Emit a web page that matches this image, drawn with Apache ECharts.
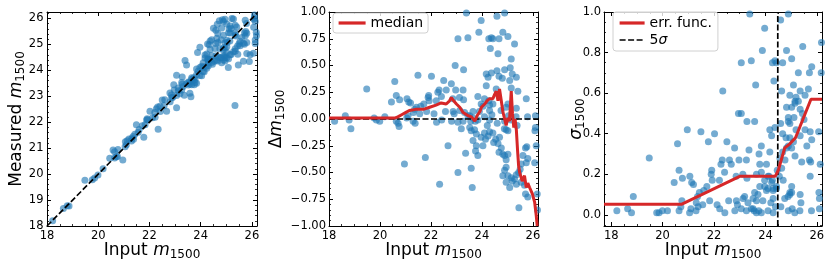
<!DOCTYPE html>
<html><head><meta charset="utf-8">
<script src="https://cdn.jsdelivr.net/npm/echarts@6/dist/echarts.min.js"></script>
<style>html,body{margin:0;padding:0;background:#fff}#c{width:830px;height:268px}</style>
</head><body><div id="c"></div>
<script>
// ---- data ----
const inputMag = [18.22,18.64,18.79,18.86,19.48,19.77,19.86,19.99,20.19,20.45,20.58,20.64,20.64,20.71,20.77,20.75,20.96,21.05,21.06,21.10,21.13,21.20,21.30,21.31,21.36,21.38,21.43,21.49,21.56,21.60,21.72,21.78,21.83,21.89,21.91,21.93,22.02,22.12,22.21,22.22,22.27,22.32,22.41,22.42,22.50,22.57,22.60,22.80,22.81,22.86,22.87,22.91,22.95,22.97,23.06,23.06,23.12,23.13,23.26,23.26,23.28,23.28,23.32,23.39,23.45,23.45,23.52,23.56,23.65,23.65,23.74,23.84,23.84,23.88,23.90,23.97,23.97,24.04,24.10,24.10,24.17,24.17,24.21,24.24,24.27,24.27,24.30,24.30,24.30,24.33,24.37,24.37,24.39,24.43,24.43,24.56,24.59,24.59,24.60,24.63,24.67,24.67,24.75,24.80,24.82,24.88,24.89,24.89,24.95,24.95,25.02,25.02,25.04,25.09,25.11,25.14,25.15,25.15,25.19,25.28,25.34,25.35,25.35,25.38,25.41,25.74,25.79,26.10,26.08,22.34,22.67,23.06,23.19,23.36,23.52,23.58,23.58,23.62,23.65,23.71,23.75,23.78,23.78,23.84,23.97,24.04,24.10,24.14,24.24,24.30,24.43,24.46,24.54,24.63,24.67,24.69,24.76,24.82,24.82,24.89,24.89,24.89,24.95,24.95,24.95,25.02,25.02,25.02,25.09,25.15,25.19,25.28,25.35,25.35,25.44,25.45,25.50,25.54,25.54,25.61,25.67,25.71,25.71,25.74,25.76,25.80,25.80,26.07,26.10,26.13,26.17,26.18];
const deltaMag = [-0.02,0.03,-0.01,-0.09,0.28,0.01,-0.01,-0.02,0.02,0.16,0.35,0.22,-0.02,-0.04,0.18,-0.07,-0.42,0.01,0.19,0.03,0.16,0.15,-0.02,0.06,0.09,-0.04,0.11,0.41,0.05,0.12,0.14,-0.36,0.07,0.20,0.22,0.17,0.40,0.05,0.17,-0.03,0.25,0.27,0.21,-0.01,0.36,0.07,0.27,0.33,-0.02,0.19,0.07,0.05,0.50,0.27,0.75,-0.03,0.20,0.08,0.27,-0.02,0.46,0.18,0.06,0.99,0.76,0.03,0.03,-0.02,0.07,0.01,-0.02,0.21,-0.01,0.81,0.07,0.92,0.14,0.12,0.19,0.02,0.42,0.31,-0.06,0.39,0.75,0.17,0.13,0.08,-0.01,0.66,0.76,0.43,0.04,0.75,0.14,0.28,0.96,0.45,-0.04,0.61,0.75,0.40,0.08,0.38,0.81,-0.09,0.46,0.99,0.11,-0.10,0.77,0.14,0.03,0.36,0.48,-0.01,0.56,0.29,0.42,0.70,0.02,0.39,0.10,-0.06,0.26,0.19,0.02,0.03,-0.11,-0.61,-0.25,-0.50,-0.09,-0.32,-0.08,-0.11,-0.46,-0.64,-0.20,-0.10,-0.30,-0.25,-0.14,-0.34,-0.17,-0.25,-0.13,-0.19,-0.16,-0.12,-0.13,-0.22,-0.19,-0.23,-0.31,-0.17,-0.27,-0.33,-0.53,-0.34,-0.48,-0.02,-0.38,-0.45,-0.59,-0.33,-0.53,-0.11,-0.64,-0.55,-0.58,-0.56,-0.52,-0.61,-0.50,-0.83,-0.47,-0.59,-0.42,-0.34,-0.62,-0.70,-0.27,-0.41,-0.26,-0.73,-0.37,-0.41,-0.08,-0.25,-0.70,-0.85];
const sigmaMag = [0.02,0.03,0.01,0.09,0.28,0.01,0.01,0.02,0.02,0.16,0.35,0.22,0.02,0.04,0.18,0.07,0.42,0.01,0.19,0.03,0.16,0.15,0.02,0.06,0.09,0.04,0.11,0.41,0.05,0.12,0.14,0.36,0.07,0.20,0.22,0.17,0.40,0.05,0.17,0.03,0.25,0.27,0.21,0.01,0.36,0.07,0.27,0.33,0.02,0.19,0.07,0.05,0.50,0.27,0.75,0.03,0.20,0.08,0.27,0.02,0.46,0.18,0.06,0.99,0.76,0.03,0.03,0.02,0.07,0.01,0.02,0.21,0.01,0.81,0.07,0.92,0.14,0.12,0.19,0.02,0.42,0.31,0.06,0.39,0.75,0.17,0.13,0.08,0.01,0.66,0.76,0.43,0.04,0.75,0.14,0.28,0.96,0.45,0.04,0.61,0.75,0.40,0.08,0.38,0.81,0.09,0.46,0.99,0.11,0.10,0.77,0.14,0.03,0.36,0.48,0.01,0.56,0.29,0.42,0.70,0.02,0.39,0.10,0.06,0.26,0.19,0.02,0.03,0.11,0.61,0.25,0.50,0.09,0.32,0.08,0.11,0.46,0.64,0.20,0.10,0.30,0.25,0.14,0.34,0.17,0.25,0.13,0.19,0.16,0.12,0.13,0.22,0.19,0.23,0.31,0.17,0.27,0.33,0.53,0.34,0.48,0.02,0.38,0.45,0.59,0.33,0.53,0.11,0.64,0.55,0.58,0.56,0.52,0.61,0.50,0.83,0.47,0.59,0.42,0.34,0.62,0.70,0.27,0.41,0.26,0.73,0.37,0.41,0.08,0.25,0.70,0.85];
const measuredMag = [18.20,18.67,18.78,18.77,19.76,19.78,19.85,19.97,20.21,20.61,20.93,20.86,20.62,20.67,20.95,20.68,20.54,21.06,21.25,21.13,21.29,21.35,21.28,21.37,21.45,21.34,21.54,21.90,21.61,21.72,21.86,21.42,21.90,22.09,22.13,22.10,22.42,22.17,22.38,22.19,22.52,22.59,22.62,22.41,22.86,22.64,22.87,23.13,22.79,23.05,22.94,22.96,23.45,23.24,23.81,23.03,23.32,23.21,23.53,23.24,23.74,23.46,23.38,24.38,24.21,23.48,23.55,23.54,23.72,23.66,23.72,24.05,23.83,24.69,23.97,24.89,24.11,24.16,24.29,24.12,24.59,24.48,24.15,24.63,25.02,24.44,24.43,24.38,24.29,24.99,25.13,24.80,24.43,25.18,24.57,24.84,25.55,25.04,24.56,25.24,25.42,25.07,24.83,25.18,25.63,24.79,25.35,25.88,25.06,24.85,25.79,25.16,25.07,25.45,25.59,25.13,25.71,25.44,25.61,25.98,25.36,25.74,25.45,25.32,25.67,25.93,25.81,26.13,25.97,21.73,22.42,22.56,23.10,23.04,23.44,23.47,23.12,22.98,23.45,23.61,23.45,23.53,23.64,23.50,23.80,23.79,23.97,23.95,24.08,24.18,24.30,24.24,24.35,24.40,24.36,24.52,24.49,24.49,24.29,24.55,24.41,24.87,24.57,24.50,24.36,24.69,24.49,24.91,24.45,24.60,24.61,24.72,24.83,24.74,24.94,24.62,25.03,24.95,25.12,25.27,25.05,25.01,25.44,25.33,25.50,25.07,25.43,25.66,26.02,25.88,25.47,25.33];
// points only visible in the left panel (|Δm| > 1)
const extraInput = [25.34,25.47,25.08,25.93,26.06,25.90,25.67,26.13,26.13,25.80,24.73,24.65,24.50,24.95,25.22,24.85];
const extraMeasured = [22.65,24.21,24.11,24.60,24.66,24.34,24.35,25.04,25.17,24.65,25.91,25.78,25.62,25.97,26.00,25.95];
// running median (middle panel)
const medianX = [18.0,20.6,20.7,20.85,21.0,21.15,21.4,21.7,21.95,22.2,22.4,22.6,22.73,22.8,22.89,23.0,23.13,23.26,23.46,23.59,23.72,23.76,23.81,23.92,23.98,24.11,24.2,24.3,24.37,24.43,24.5,24.56,24.63,24.69,24.76,24.82,24.89,24.95,25.02,25.08,25.15,25.2,25.25,25.3,25.35,25.4,25.44,25.48,25.58,25.67,25.74,25.8,25.87,25.98,26.07,26.13,26.17];
const medianY = [0.01,0.01,0.02,0.04,0.06,0.08,0.09,0.09,0.11,0.13,0.15,0.14,0.17,0.2,0.17,0.14,0.11,0.06,0.03,0.02,-0.02,-0.03,0.03,0.07,0.11,0.14,0.17,0.19,0.2,0.19,0.23,0.26,0.17,0.28,0.17,0.07,0.0,-0.06,0.01,-0.02,0.26,0.05,-0.08,0.0,-0.1,-0.3,-0.44,-0.5,-0.58,-0.53,-0.64,-0.6,-0.64,-0.7,-0.78,-0.9,-1.0];
// error function (right panel)
const errX = [17.72,20.73,23.0,24.38,24.5,24.75,24.95,25.17,25.77,26.2];
const errY = [0.052,0.052,0.19,0.19,0.22,0.33,0.35,0.38,0.57,0.57];
const fiveSigma = 24.48;
// axis ranges / ticks
const xRange12 = [18, 26.2];
const xRange3 = [17.72, 26.2];
const yRange1 = [18, 26.25];
const yRange2 = [-1, 1];
const yRange3 = [-0.055, 1.0];

const FONT = 'DejaVu Sans';
const BLUE = '#1f77b4', RED = '#d62728';
const zip = (a, b) => a.map((v, i) => [v, b[i]]);

const richName = {
  i: {fontFamily: FONT, fontSize: 17, fontStyle: 'italic', color: '#000'},
  s: {fontFamily: FONT, fontSize: 12, color: '#000', padding: [9, 0, 0, 0]}
};
function nameStyle() {
  return {fontFamily: FONT, fontSize: 17, color: '#000', rich: richName};
}
function axisBase(gridIndex, pos, range, opts) {
  const isMain = pos === 'bottom' || pos === 'left';
  const a = {
    type: 'value', gridIndex, position: pos, min: range[0], max: range[1],
    axisLine: {show: true, onZero: false, lineStyle: {color: '#000', width: 1}},
    axisTick: {show: true, inside: true, length: 4, lineStyle: {color: '#000', width: 1}},
    minorTick: {show: true, splitNumber: opts.minor, length: 2, lineStyle: {color: '#000', width: 0.8}},
    splitLine: {show: false}, minorSplitLine: {show: false},
    axisLabel: {show: isMain, fontFamily: FONT, fontSize: 11.5, color: '#000', margin: opts.margin, formatter: opts.fmt}
  };
  if (opts.interval) a.interval = opts.interval;
  if (opts.splitNumber) a.splitNumber = opts.splitNumber;
  if (isMain && opts.name) {
    a.name = opts.name; a.nameLocation = 'middle'; a.nameGap = opts.nameGap;
    a.nameMoveOverlap = false;
    a.nameTextStyle = nameStyle();
    if (pos === 'left') a.nameRotate = 90;
  }
  return a;
}
const fmtEvenInt = v => (Math.abs(v - Math.round(v)) < 1e-6 && Math.round(v) % 2 === 0) ? String(Math.round(v)) : '';
const fmtInt = v => (Math.abs(v - Math.round(v)) < 1e-6) ? String(Math.round(v)) : '';
const fmt2 = v => v.toFixed(2).replace('-', '\u2212');
const fmt3 = v => (v < -1e-9 ? '' : v.toFixed(1));
const xName = 'Input {i|m}{s|1500}';

const xAxes = [], yAxes = [];
[[0, xRange12, {interval: 2}], [1, xRange12, {interval: 2}], [2, xRange3, {splitNumber: 5}]].forEach(([g, r, o]) => {
  ['bottom', 'top'].forEach(p => xAxes.push(axisBase(g, p, r, Object.assign({minor: 4, margin: 4, fmt: fmtEvenInt, name: xName, nameGap: 14}, o))));
});
['left', 'right'].forEach(p => yAxes.push(axisBase(0, p, yRange1, {interval: 1, minor: 5, margin: 3.5, fmt: fmtInt, name: 'Measured {i|m}{s|1500}', nameGap: 20})));
['left', 'right'].forEach(p => yAxes.push(axisBase(1, p, yRange2, {interval: 0.25, minor: 5, margin: 3, fmt: fmt2, name: '\u0394{i|m}{s|1500}', nameGap: 42})));
['left', 'right'].forEach(p => yAxes.push(axisBase(2, p, yRange3, {splitNumber: 5, minor: 4, margin: 3, fmt: fmt3, name: '{i|\u03c3}{s|1500}', nameGap: 17})));

const scatterStyle = {color: BLUE, opacity: 0.62};
const dashBlack = {color: '#000', width: 1.7, type: [6, 2.5]};
const legendBox = {
  orient: 'vertical', itemWidth: 27, itemHeight: 14, itemGap: 3,
  backgroundColor: 'rgba(255,255,255,0.8)', borderColor: '#d0d0d0', borderWidth: 1, borderRadius: 3,
  itemStyle: {opacity: 0},
  textStyle: {fontFamily: FONT, fontSize: 14, color: '#000', rich: {i: {fontFamily: FONT, fontSize: 14, fontStyle: 'italic', color: '#000'}}}
};
const gridBase = {outerBoundsMode: 'none', containLabel: false};

const option = {
  animation: false,
  backgroundColor: '#fff',
  textStyle: {fontFamily: FONT},
  grid: [
    Object.assign({left: 47, top: 12, width: 210, height: 214}, gridBase),
    Object.assign({left: 329, top: 12, width: 209, height: 214}, gridBase),
    Object.assign({left: 604, top: 12, width: 218, height: 214}, gridBase)
  ],
  xAxis: xAxes,
  yAxis: yAxes,
  legend: [
    Object.assign({}, legendBox, {
      data: [{name: 'median', lineStyle: {width: 3.2}}],
      left: 333, top: 13, padding: [3, 5, 3, 4]}),
    Object.assign({}, legendBox, {
      data: [{name: 'err. func.', lineStyle: {width: 3.2}}, {name: '5\u03c3', lineStyle: {width: 1.6}}],
      left: 613, top: 12, padding: [4, 6, 4, 5], itemWidth: 25,
      formatter: n => n === '5\u03c3' ? '5{i|\u03c3}' : n})
  ],
  series: [
    {type: 'scatter', name: 'p1', xAxisIndex: 0, yAxisIndex: 0, symbolSize: 7, itemStyle: scatterStyle,
      data: zip(inputMag, measuredMag).concat(zip(extraInput, extraMeasured)), z: 2},
    {type: 'line', name: 'one-to-one', xAxisIndex: 0, yAxisIndex: 0, symbol: 'none', lineStyle: dashBlack,
      data: [[xRange12[0], yRange1[0]], [xRange12[1], xRange12[1]]], z: 3},
    {type: 'scatter', name: 'p2', xAxisIndex: 2, yAxisIndex: 2, symbolSize: 7, itemStyle: scatterStyle,
      data: zip(inputMag, deltaMag), z: 2},
    {type: 'line', name: 'zero', xAxisIndex: 2, yAxisIndex: 2, symbol: 'none', lineStyle: dashBlack,
      data: [[xRange12[0], 0], [xRange12[1], 0]], z: 3},
    {type: 'line', name: 'median', xAxisIndex: 2, yAxisIndex: 2, symbol: 'none', color: RED,
      lineStyle: {color: RED, width: 3}, data: zip(medianX, medianY), z: 4},
    {type: 'scatter', name: 'p3', xAxisIndex: 4, yAxisIndex: 4, symbolSize: 7, itemStyle: scatterStyle,
      data: zip(inputMag, sigmaMag), z: 2},
    {type: 'line', name: 'err. func.', xAxisIndex: 4, yAxisIndex: 4, symbol: 'none', color: RED,
      lineStyle: {color: RED, width: 3}, data: zip(errX, errY), z: 4},
    {type: 'line', name: '5\u03c3', xAxisIndex: 4, yAxisIndex: 4, symbol: 'none', color: '#000',
      lineStyle: dashBlack, data: [[fiveSigma, yRange3[0]], [fiveSigma, yRange3[1]]], z: 3}
  ]
};
const chart = echarts.init(document.getElementById('c'), null, {renderer: 'canvas'});
chart.setOption(option);
</script></body></html>
